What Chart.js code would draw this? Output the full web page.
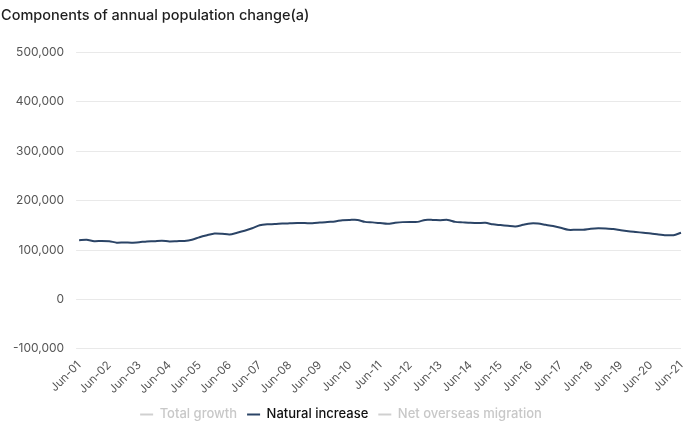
<!DOCTYPE html>
<html>
<head>
<meta charset="utf-8">
<script src="https://cdn.jsdelivr.net/npm/chart.js@4"></script>
<style>
  html, body { margin: 0; padding: 0; background: #ffffff; }
  #wrap { width: 700px; height: 431px; position: relative; }
</style>
</head>
<body>
<div id="wrap"><canvas id="popChart"></canvas></div>
<script>
// quarterly periods, Jun-01 .. Jun-21
const quarters = [];
const months = ['Jun', 'Sep', 'Dec', 'Mar'];
for (let y = 1; y <= 21; y++) {
  for (let q = 0; q < 4; q++) {
    const yr = q === 3 ? y + 1 : y;
    if (y === 21 && q > 0) break;
    quarters.push(months[q] + '-' + String(yr).padStart(2, '0'));
  }
}

const seriesNames = ['Total growth', 'Natural increase', 'Net overseas migration'];
const hiddenSeries = [true, false, true];

// values (persons)
const naturalIncrease = [
  120000, 121000, 118000, 118500, 118000, 115000, 115500, 115000, 116000, 117500,
  118000, 119000, 117500, 118000, 118500, 121000, 126000, 130000, 133500, 133000,
  131500, 135000, 139000, 144000, 150000, 152000, 152500, 153500, 154000, 154500,
  154500, 154000, 155500, 157000, 158000, 160500, 161000, 161000, 157000, 156000,
  154500, 153000, 155000, 156500, 157000, 157000, 161000, 161000, 160500, 161000,
  157000, 156000, 155000, 154500, 155000, 152000, 150500, 149000, 147700, 151000,
  153800, 153500, 151000, 148500, 145000, 141000, 141000, 141000, 143000, 144000,
  143500, 142500, 140000, 138000, 136500, 135000, 133500, 131500, 130000, 130000,
  135000
];
const totalGrowth = [];        // hidden in the reference
const netOverseasMigration = []; // hidden in the reference

const yTicks = [-100000, 0, 100000, 200000, 300000, 400000, 500000];

const lineColor = '#2b4466';
const fadedColor = '#d0d0d0';

const ctx = document.getElementById('popChart');
new Chart(ctx, {
  type: 'line',
  data: {
    labels: quarters,
    datasets: [
      { label: seriesNames[0], data: totalGrowth, hidden: hiddenSeries[0], borderColor: '#7aa6c2' },
      { label: seriesNames[1], data: naturalIncrease, hidden: hiddenSeries[1], borderColor: lineColor },
      { label: seriesNames[2], data: netOverseasMigration, hidden: hiddenSeries[2], borderColor: '#c9a24a' }
    ].map(ds => Object.assign(ds, {
      borderWidth: 2,
      pointRadius: 0,
      pointHoverRadius: 3,
      tension: 0.25,
      fill: false
    }))
  },
  options: {
    responsive: true,
    maintainAspectRatio: false,
    animation: false,
    layout: { padding: { left: 1, right: 19, top: 4, bottom: 0 } },
    plugins: {
      title: {
        display: true,
        text: 'Components of annual population change(a)',
        align: 'start',
        color: '#1e1e1e',
        font: { family: 'Inter', size: 14.5, weight: '500' },
        padding: { top: 3, bottom: 28 }
      },
      legend: {
        display: true,
        position: 'bottom',
        labels: {
          usePointStyle: true,
          pointStyle: 'line',
          pointStyleWidth: 13,
          padding: 10,
          font: { family: 'Inter', size: 13, weight: '500' },
          generateLabels: function (chart) {
            return chart.data.datasets.map((ds, i) => {
              const visible = chart.isDatasetVisible(i);
              return {
                text: ds.label,
                fillStyle: visible ? ds.borderColor : fadedColor,
                strokeStyle: visible ? ds.borderColor : fadedColor,
                fontColor: visible ? '#111111' : '#c8c8c8',
                lineWidth: 2,
                pointStyle: 'line',
                hidden: false,
                datasetIndex: i
              };
            });
          }
        }
      },
      tooltip: { mode: 'index', intersect: false }
    },
    scales: {
      x: {
        offset: false,
        grid: { display: false },
        border: { display: false },
        ticks: {
          autoSkip: false,
          minRotation: 45,
          maxRotation: 45,
          padding: 1.5,
          color: '#555555',
          font: { family: 'Inter', size: 11.5 },
          callback: function (val, idx) {
            return idx % 4 === 0 ? this.getLabelForValue(val) : null;
          }
        }
      },
      y: {
        min: yTicks[0],
        max: yTicks[yTicks.length - 1],
        afterBuildTicks: axis => { axis.ticks = yTicks.map(v => ({ value: v })); },
        grid: { color: '#e9e9e9', tickLength: 3 },
        border: { display: false },
        ticks: {
          color: '#555555',
          padding: 12,
          font: { family: 'Inter', size: 12 },
          callback: v => v.toLocaleString('en-US')
        }
      }
    }
  }
});
</script>
</body>
</html>
